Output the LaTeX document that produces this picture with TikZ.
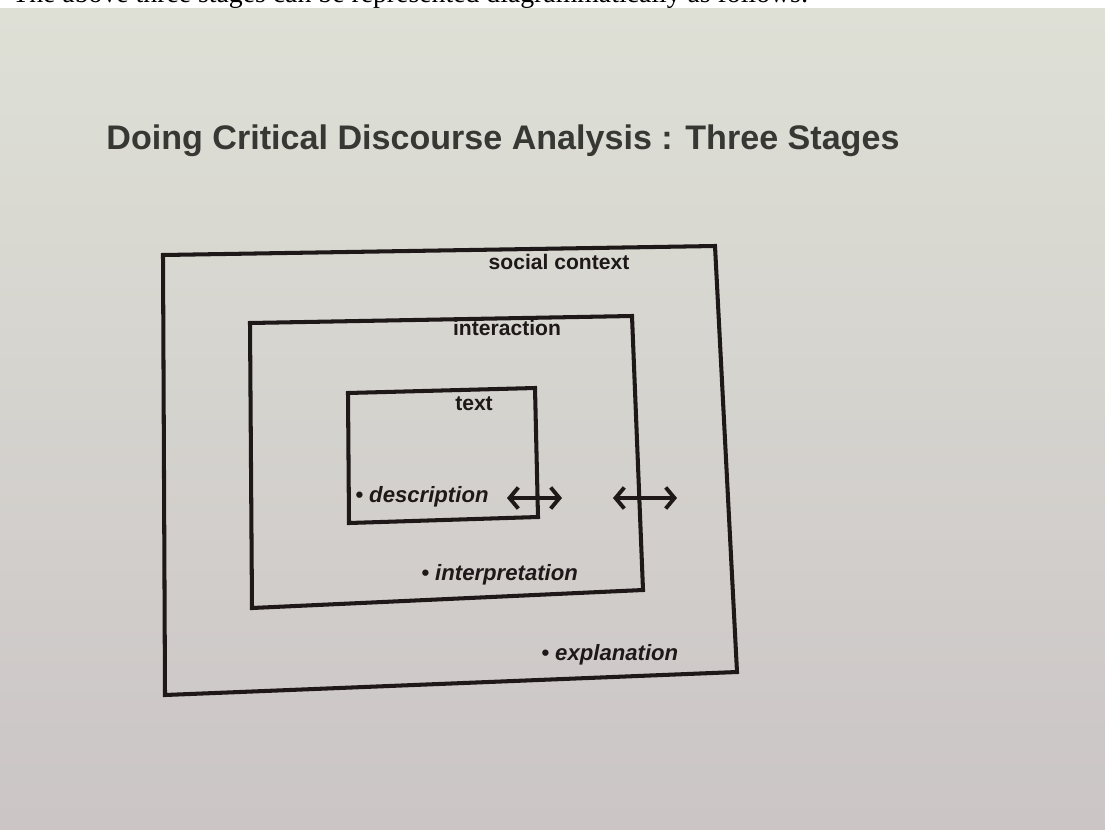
\documentclass[tikz,border=0pt]{standalone}
\usepackage{fontspec}
\setmainfont{Liberation Serif}
\setsansfont{Liberation Sans}
\usetikzlibrary{arrows.meta}
\definecolor{ink}{RGB}{30,25,24}
\definecolor{titleink}{RGB}{55,55,52}
\definecolor{paperhi}{RGB}{222,224,214}
\definecolor{paperlo}{RGB}{203,197,198}
\tikzset{
  frame/.style={draw=ink,line width=2.3pt,line join=miter},
  lbl/.style={text=ink,inner sep=0pt,font=\sffamily\bfseries\fontsize{12}{14}\selectfont},
  stage/.style={text=ink,inner sep=0pt,anchor=west,font=\sffamily\bfseries\itshape\fontsize{12.6}{15}\selectfont},
  twoway/.style={draw=ink,line width=2.2pt,{Straight Barb[length=5pt,width=12pt]}-{Straight Barb[length=5pt,width=12pt]}}
}
\begin{document}
\begin{tikzpicture}[x=0.02cm,y=-0.02cm]
    \useasboundingbox (0,0) rectangle (1105,829);
    \clip (0,0) rectangle (1105,829);
    \fill[white] (0,0) rectangle (1105,8);
    \shade[top color=paperhi,bottom color=paperlo] (0,8) rectangle (1105,829);
    \path (12,2.5) node [anchor=base west,inner sep=0pt,font=\fontsize{15.8}{18}\selectfont](intro){The above three stages can be represented diagrammatically as follows:};
    \path (503,141) node [text=titleink,font=\sffamily\bfseries\fontsize{19.4}{22}\selectfont](title){Doing Critical Discourse Analysis : Three Stages};

    % the three frames
    \draw[frame] (163,255) -- (715,246) -- (737,672) -- (165,695) -- cycle;
    \draw[frame] (250,323) -- (632,316) -- (643,590) -- (252,608) -- cycle;
    \draw[frame] (348,393) -- (535,388) -- (538,517) -- (349,523) -- cycle;

    \path (559,262) node [lbl](social){social context};
    \path (507,328) node [lbl](interaction){interaction};
    \path (474,404) node [lbl](text){text};
    \path (355,497) node [stage](description){\textbullet\ description};
    \path (421,575) node [stage](interpretation){\textbullet\ interpretation};
    \path (541,655) node [stage](explanation){\textbullet\ explanation};

    \coordinate (a1) at (507,498);
    \coordinate (a2) at (562,498);
    \coordinate (b1) at (613,498);
    \coordinate (b2) at (677,498);
    \draw[twoway] (a1) -- (a2);
    \draw[twoway] (b1) -- (b2);

  \end{tikzpicture}
\end{document}
